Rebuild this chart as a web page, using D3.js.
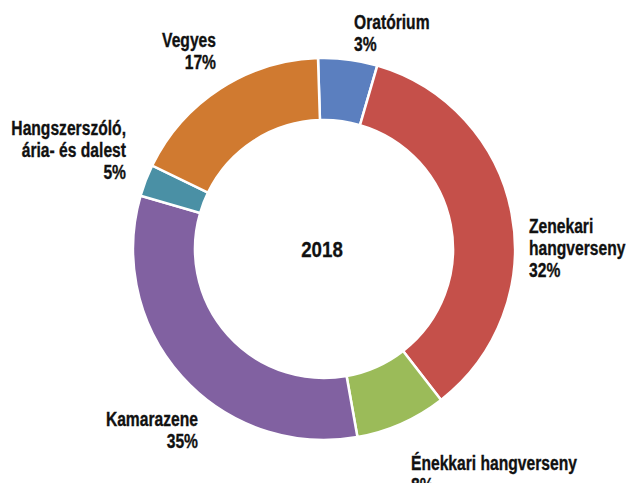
<!DOCTYPE html>
<html>
<head>
<meta charset="utf-8">
<script src="https://cdn.jsdelivr.net/npm/d3@7/dist/d3.min.js"></script>
<style>
  html, body { margin: 0; padding: 0; background: #ffffff; }
  svg { display: block; }
  text { font-family: "Liberation Sans", Arial, sans-serif; font-weight: bold; fill: #111; }
</style>
</head>
<body>
<svg id="chart" width="630" height="483"></svg>
<script>
// ---- data ----
const categories = ["Oratórium", "Zenekari hangverseny", "Énekkari hangverseny", "Kamarazene", "Hangszerszóló, ária- és dalest", "Vegyes"];
// slice sizes as drawn (share of the ring, %)
const sliceValues = [5.0, 35.0, 7.7, 32.3, 2.7, 17.3];
// percentages as printed in the labels
const labelPercents = ["3%", "32%", "8%", "35%", "5%", "17%"];
// label lines as printed
const labelLines = [
  ["Oratórium"],
  ["Zenekari", "hangverseny"],
  ["Énekkari hangverseny"],
  ["Kamarazene"],
  ["Hangszerszóló,", "ária- és dalest"],
  ["Vegyes"]
];
const colors = ["#5b7fbf", "#c5504a", "#9bbb59", "#8161a1", "#4a90a5", "#d07a30"];
const centerTitle = "2018";

// ---- layout ----
const W = 630, H = 483;
const cx = 324, cy = 249, outerR = 191, innerR = 129;
const startDeg = -1.8;
const lineH = 22;
const condense = 0.745;
// label anchors relative to chart centre: dx, dy of first baseline, text-anchor
const labelLayout = [
  { dx: 30,   dy: -220, anchor: "start" },
  { dx: 205,  dy: -16,  anchor: "start" },
  { dx: 87,   dy: 221,  anchor: "start" },
  { dx: -126, dy: 177,  anchor: "end" },
  { dx: -198, dy: -114, anchor: "end" },
  { dx: -108, dy: -202, anchor: "end" }
];

const svg = d3.select("#chart");
const g = svg.append("g").attr("transform", `translate(${cx},${cy})`);

const start = startDeg * Math.PI / 180;
const pie = d3.pie().sort(null).value(d => d).startAngle(start).endAngle(start + 2 * Math.PI);
const arc = d3.arc().innerRadius(innerR).outerRadius(outerR);

g.selectAll("path.slice")
  .data(pie(sliceValues))
  .join("path")
  .attr("class", "slice")
  .attr("d", arc)
  .attr("fill", (d, i) => colors[i])
  .attr("stroke", "#ffffff")
  .attr("stroke-width", 2.5)
  .attr("stroke-linejoin", "miter");

// labels (condensed bold look via horizontal scale)
categories.forEach((c, i) => {
  const L = labelLayout[i];
  const t = g.append("text")
    .attr("transform", `translate(${L.dx},${L.dy}) scale(${condense},1)`)
    .attr("text-anchor", L.anchor)
    .style("font-size", "21px")
    .style("stroke", "#111")
    .style("stroke-width", "0.35px");
  const lines = labelLines[i].concat([labelPercents[i]]);
  lines.forEach((ln, k) => {
    t.append("tspan").attr("x", 0).attr("y", k * lineH).text(ln);
  });
});

// centre title
g.append("text")
  .attr("transform", `translate(-2,8) scale(0.85,1)`)
  .attr("text-anchor", "middle")
  .style("font-size", "22px")
  .style("stroke", "#111")
  .style("stroke-width", "0.3px")
  .text(centerTitle);
</script>
</body>
</html>
